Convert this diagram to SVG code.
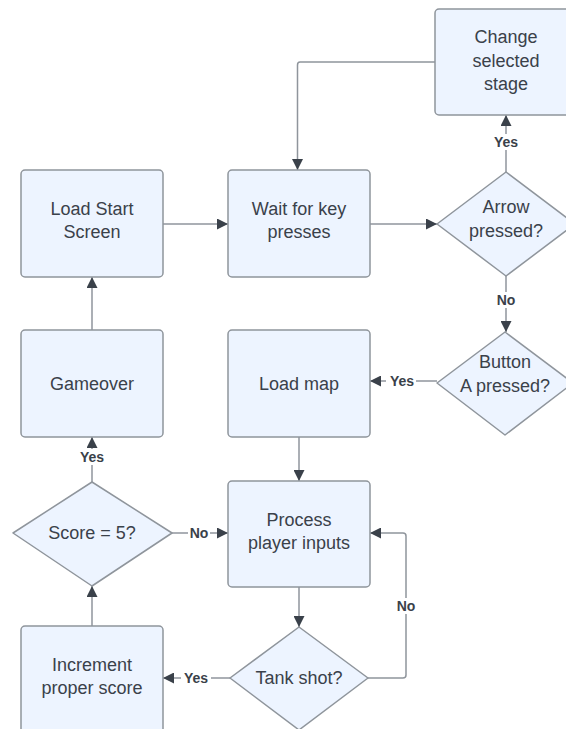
<svg xmlns="http://www.w3.org/2000/svg" width="566" height="729" viewBox="0 0 566 729">
<style>
.n{fill:#edf4ff;stroke:#8f959c;stroke-width:1.5}
.t{font-family:"Liberation Sans",Arial,sans-serif;font-size:18px;fill:#3a414a;text-anchor:middle}
.l{font-family:"Liberation Sans",Arial,sans-serif;font-size:14px;font-weight:bold;fill:#3a414a;text-anchor:middle}
.c{fill:none;stroke:#8f959c;stroke-width:1.5}
.bg{fill:#ffffff}
</style>
<defs>
<marker id="a" viewBox="0 0 10 10" refX="10" refY="5" markerWidth="11" markerHeight="11" markerUnits="userSpaceOnUse" orient="auto">
<path d="M0,0 L10,5 L0,10 Z" fill="#3a414a"/>
</marker>
</defs>
<rect width="566" height="729" fill="#ffffff"/>
<g id="connectors">
<path class="c" d="M163,224 H228" marker-end="url(#a)"/>
<path class="c" d="M370,224 H437" marker-end="url(#a)"/>
<path class="c" d="M435,62 H300 Q297.5,62 297.5,65 V170" marker-end="url(#a)"/>
<path class="c" d="M506,172 V115" marker-end="url(#a)"/>
<rect class="bg" x="490" y="134" width="32" height="16"/>
<text class="l" x="506" y="147">Yes</text>
<path class="c" d="M506,276 V332" marker-end="url(#a)"/>
<rect class="bg" x="494" y="292" width="24" height="16"/>
<text class="l" x="506" y="305">No</text>
<path class="c" d="M437,381 H370" marker-end="url(#a)"/>
<rect class="bg" x="386" y="373" width="30" height="16"/>
<text class="l" x="402" y="386">Yes</text>
<path class="c" d="M299,437 V481" marker-end="url(#a)"/>
<path class="c" d="M92,330 V277" marker-end="url(#a)"/>
<path class="c" d="M92,482 V437" marker-end="url(#a)"/>
<rect class="bg" x="77" y="449" width="30" height="16"/>
<text class="l" x="92" y="462">Yes</text>
<path class="c" d="M172,533 H228" marker-end="url(#a)"/>
<rect class="bg" x="188" y="525" width="22" height="16"/>
<text class="l" x="199" y="538">No</text>
<path class="c" d="M299,587 V627" marker-end="url(#a)"/>
<path class="c" d="M368,678 H403 Q406,678 406,675 V536 Q406,533 403,533 H370" marker-end="url(#a)"/>
<rect class="bg" x="395" y="598" width="22" height="16"/>
<text class="l" x="406" y="611">No</text>
<path class="c" d="M230,678 H163" marker-end="url(#a)"/>
<rect class="bg" x="181" y="670" width="30" height="16"/>
<text class="l" x="196" y="683">Yes</text>
<path class="c" d="M92,626 V586" marker-end="url(#a)"/>
</g>
<g id="load-start">
<rect class="n" x="21" y="170" width="142" height="107" rx="4"/>
<text class="t" x="92" y="215">Load Start</text>
<text class="t" x="92" y="238">Screen</text>
</g>
<g id="wait">
<rect class="n" x="228" y="170" width="142" height="107" rx="4"/>
<text class="t" x="299" y="215">Wait for key</text>
<text class="t" x="299" y="238">presses</text>
</g>
<g id="change-stage">
<rect class="n" x="435" y="9" width="142" height="106" rx="4"/>
<text class="t" x="506" y="43">Change</text>
<text class="t" x="506" y="67">selected</text>
<text class="t" x="506" y="90">stage</text>
</g>
<g id="arrow-pressed">
<path class="n" d="M506,172 L575,224 L506,276 L437,224 Z" stroke-linejoin="round"/>
<text class="t" x="506" y="213">Arrow</text>
<text class="t" x="506" y="237">pressed?</text>
</g>
<g id="button-a">
<path class="n" d="M505,332 L573,383 L505,435 L437,383 Z" stroke-linejoin="round"/>
<text class="t" x="505" y="368">Button</text>
<text class="t" x="505" y="392">A pressed?</text>
</g>
<g id="load-map">
<rect class="n" x="228" y="330" width="142" height="107" rx="4"/>
<text class="t" x="299" y="390">Load map</text>
</g>
<g id="gameover">
<rect class="n" x="21" y="330" width="142" height="107" rx="4"/>
<text class="t" x="92" y="390">Gameover</text>
</g>
<g id="score">
<path class="n" d="M92,482 L172,533 L92,586 L13,533 Z" stroke-linejoin="round"/>
<text class="t" x="92" y="539">Score = 5?</text>
</g>
<g id="process">
<rect class="n" x="228" y="481" width="142" height="106" rx="4"/>
<text class="t" x="299" y="526">Process</text>
<text class="t" x="299" y="549">player inputs</text>
</g>
<g id="tank-shot">
<path class="n" d="M299,627 L368,678 L299,730 L230,678 Z" stroke-linejoin="round"/>
<text class="t" x="299" y="684">Tank shot?</text>
</g>
<g id="increment">
<rect class="n" x="21" y="626" width="142" height="108" rx="4"/>
<text class="t" x="92" y="671">Increment</text>
<text class="t" x="92" y="694">proper score</text>
</g>
</svg>
